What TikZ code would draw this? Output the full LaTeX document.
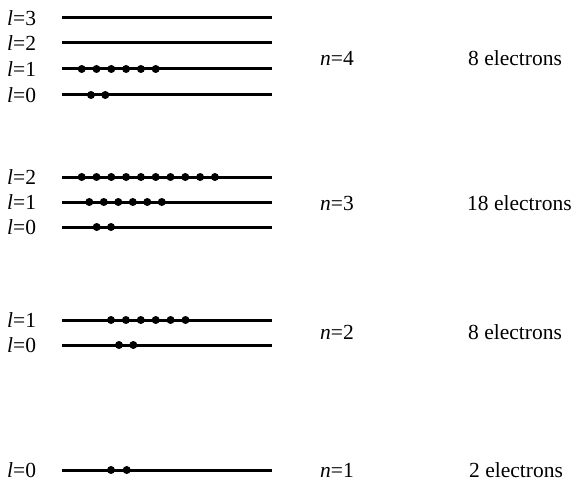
\documentclass[tikz,border=0pt]{standalone}
\usepackage{fontspec}
\setmainfont{Liberation Serif}
\begin{document}
\begin{tikzpicture}[x=1pt,y=-1pt,
  level/.style={line width=3pt},
  elec/.style={circle,fill=black,inner sep=0pt,minimum size=8pt},
  lab/.style={anchor=west,inner sep=0pt,font=\fontsize{21.5}{24}\selectfont},
  nlab/.style={anchor=center,inner sep=0pt,font=\fontsize{21.5}{24}\selectfont},
  elab/.style={anchor=west,inner sep=0pt,font=\fontsize{21.5}{24}\selectfont}]
\useasboundingbox (0,0) rectangle (577,481);
% levels: name/y/label/firstdot/count/spacing
\foreach \nm/\yy/\ll/\fx/\cnt/\sp in {a3/18/3/0/0/0, a2/43/2/0/0/0, a1/69/1/81.7/6/14.8, a0/95/0/91/2/14.3,
  b2/177/2/81.7/10/14.8, b1/202/1/89.3/6/14.5, b0/227/0/96.7/2/14.3,
  c1/320/1/111/6/14.9, c0/345/0/119/2/14.3,
  d0/470/0/111/2/15.7}{
  \node[lab] (L\nm) at (7,\yy) {\textit{l}=\ll};
  \coordinate (S\nm) at (62,\yy);
  \coordinate (E\nm) at (272,\yy);
  \draw[level] (S\nm) -- (E\nm);
  \ifnum\cnt>0
    \foreach \i in {1,...,\cnt}{
      \node[elec] (D\nm\i) at ({\fx+(\i-1)*\sp},\yy) {};
    }
  \fi
}
\node[nlab] (n4) at (337,58) {\textit{n}=4};
\node[nlab] (n3) at (337,203) {\textit{n}=3};
\node[nlab] (n2) at (337,332) {\textit{n}=2};
\node[nlab] (n1) at (337,470) {\textit{n}=1};
\node[elab] (e4) at (468,58) {8 electrons};
\node[elab] (e3) at (467,203) {18 electrons};
\node[elab] (e2) at (468,332) {8 electrons};
\node[elab] (e1) at (469,470) {2 electrons};
\end{tikzpicture}
\end{document}
